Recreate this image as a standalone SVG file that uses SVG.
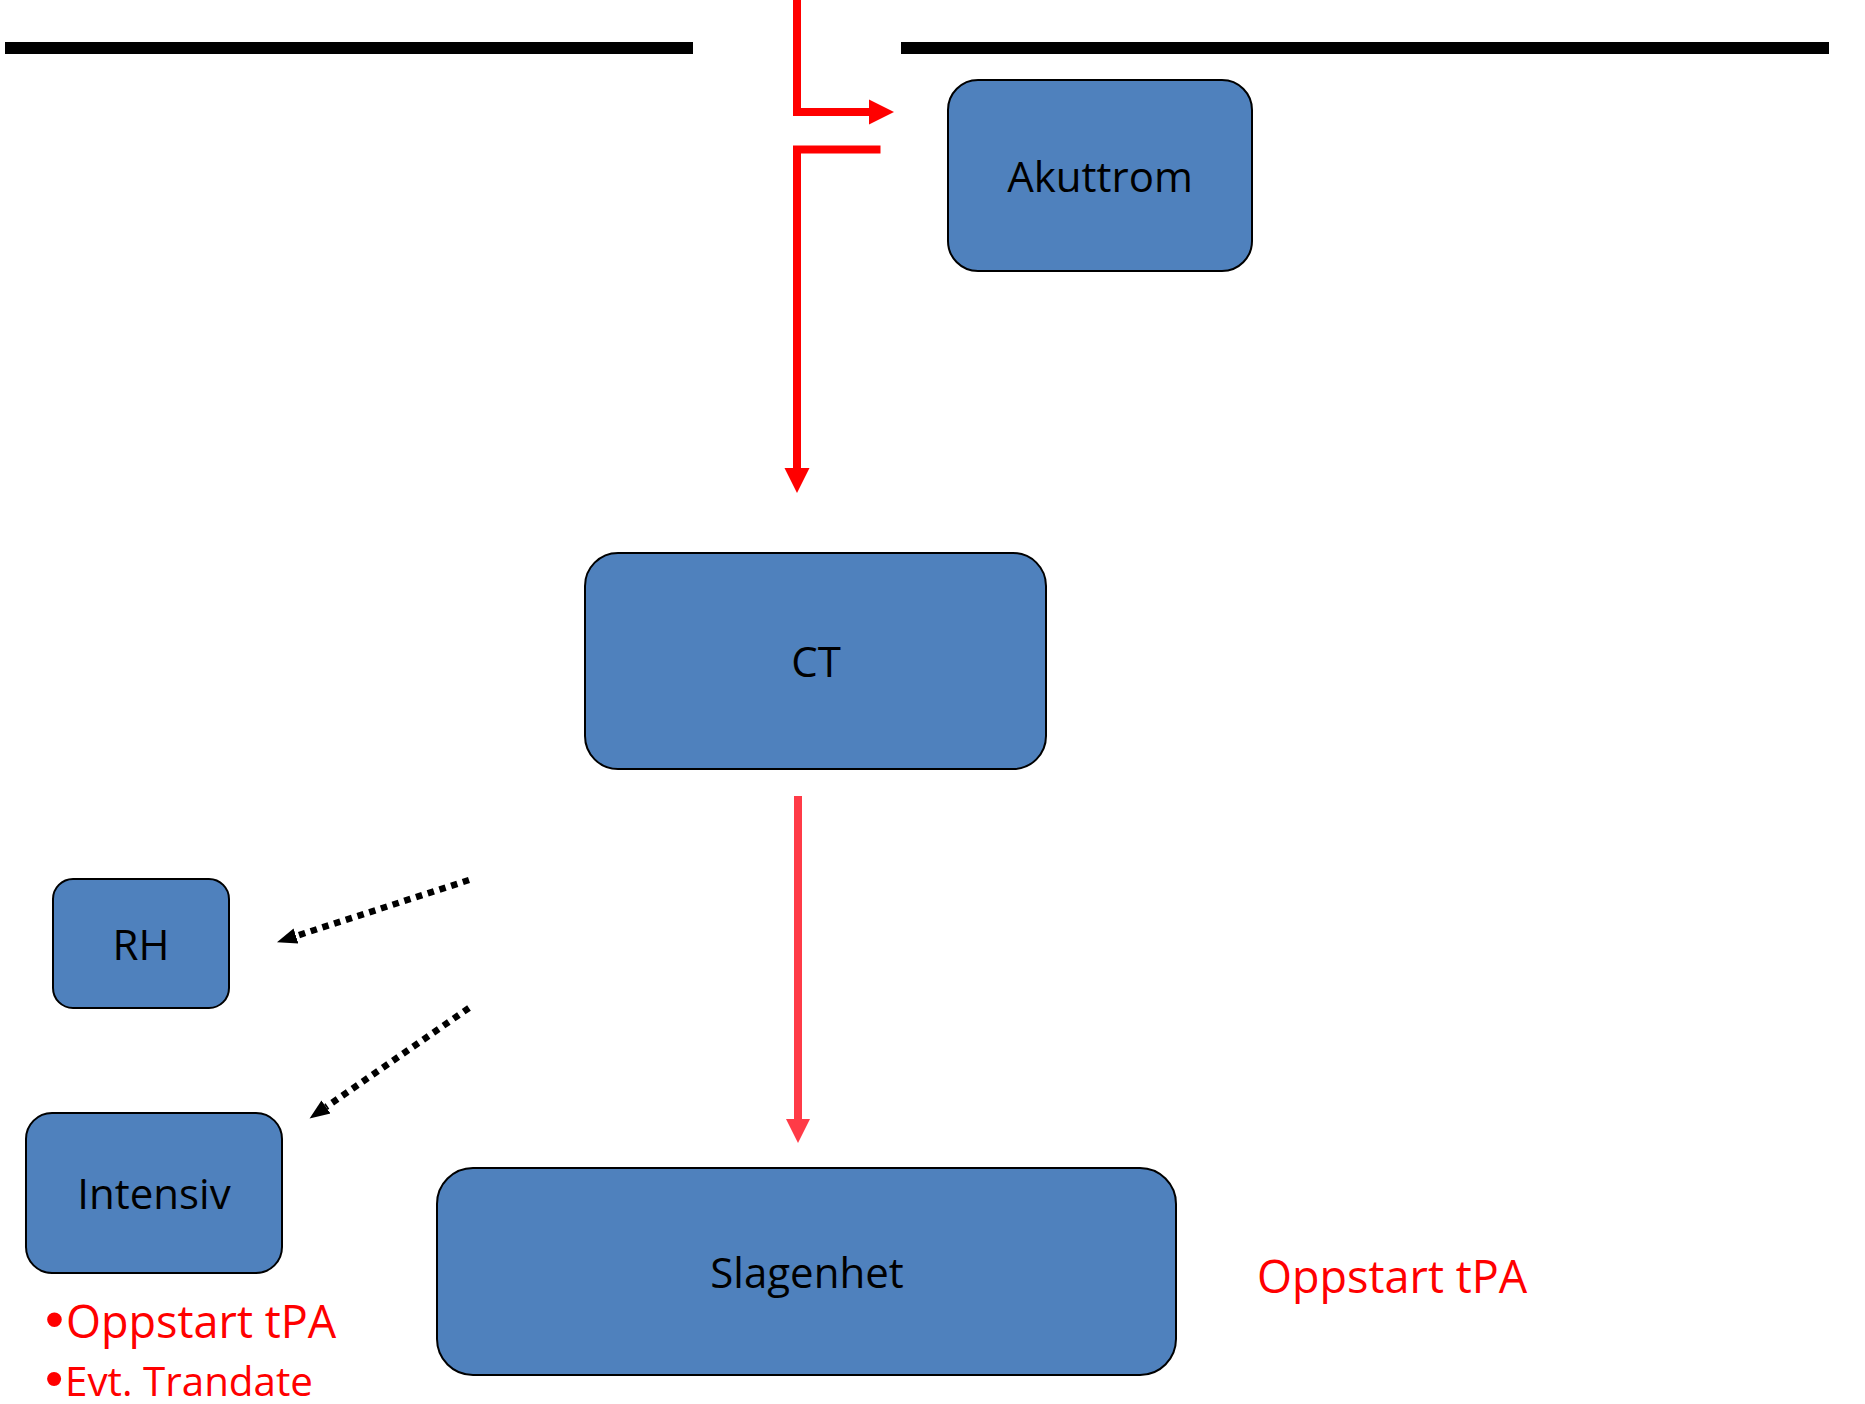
<svg xmlns="http://www.w3.org/2000/svg" width="1865" height="1404" viewBox="0 0 1865 1404">
  <style>
    .node rect { fill: #4F81BD; stroke: #000; stroke-width: 2; }
    .node text { font-family: "Open Sans", "Liberation Sans", sans-serif; font-size: 42px; fill: #000; text-anchor: middle; }
    .red { font-family: "Open Sans", "Liberation Sans", sans-serif; fill: #FF0000; }
    .bullet { font-family: "Liberation Sans", Arial, sans-serif; }
    .wall { stroke: #000; stroke-width: 12; fill: none; }
    .redline { stroke: #FF0000; stroke-width: 8; fill: none; stroke-linejoin: miter; stroke-linecap: butt; }
    .redline2 { stroke: #FF3B47; stroke-width: 8; fill: none; }
    .dotted { stroke: #000; stroke-width: 6.5; stroke-dasharray: 6.5 5.8; fill: none; }
  </style>
  <defs>
    <marker id="redHead" markerUnits="userSpaceOnUse" markerWidth="26" markerHeight="26" refX="0" refY="12.5" orient="auto" viewBox="0 0 26 25">
      <path d="M0,0 L25,12.5 L0,25 Z" fill="#FF0000"/>
    </marker>
    <marker id="redHead2" markerUnits="userSpaceOnUse" markerWidth="26" markerHeight="26" refX="0" refY="12" orient="auto" viewBox="0 0 26 24">
      <path d="M0,0 L24,12 L0,24 Z" fill="#FF3B47"/>
    </marker>
    <marker id="blackHead" markerUnits="userSpaceOnUse" markerWidth="22" markerHeight="18" refX="0" refY="8" orient="auto" viewBox="0 0 22 16">
      <path d="M0,0 L20,8 L0,16 Z" fill="#000"/>
    </marker>
  </defs>

  <g id="walls">
    <line class="wall" x1="5" y1="48" x2="693" y2="48"/>
    <line class="wall" x1="901" y1="48" x2="1829" y2="48"/>
  </g>

  <g id="connectors">
    <polyline class="redline" points="797,0 797,112 869,112" marker-end="url(#redHead)"/>
    <polyline class="redline" points="880.5,149.5 797,149.5 797,468" marker-end="url(#redHead)"/>
    <line class="redline2" x1="798" y1="796" x2="798" y2="1119" marker-end="url(#redHead2)"/>
    <line class="dotted" x1="469" y1="880" x2="296" y2="936" marker-end="url(#blackHead)"/>
    <line class="dotted" x1="469" y1="1008" x2="326" y2="1107" marker-end="url(#blackHead)"/>
  </g>

  <g id="akuttrom" class="node">
    <rect x="948" y="80" width="304" height="191" rx="30" ry="30"/>
    <text x="1100" y="192">Akuttrom</text>
  </g>
  <g id="ct" class="node">
    <rect x="585" y="553" width="461" height="216" rx="33" ry="33"/>
    <text x="816" y="677">CT</text>
  </g>
  <g id="rh" class="node">
    <rect x="53" y="879" width="176" height="129" rx="20" ry="20"/>
    <text x="141" y="960">RH</text>
  </g>
  <g id="intensiv" class="node">
    <rect x="26" y="1113" width="256" height="160" rx="26" ry="26"/>
    <text x="154" y="1209">Intensiv</text>
  </g>
  <g id="slagenhet" class="node">
    <rect x="437" y="1168" width="739" height="207" rx="36" ry="36"/>
    <text x="807" y="1288">Slagenhet</text>
  </g>

  <g id="notes">
    <text class="red" x="1257" y="1293" font-size="45">Oppstart tPA</text>
    <text class="red" y="1338" font-size="45"><tspan class="bullet" x="45" font-size="54">•</tspan><tspan x="66">Oppstart tPA</tspan></text>
    <text class="red" y="1396" font-size="41"><tspan class="bullet" x="45" font-size="52">•</tspan><tspan x="65" textLength="248" lengthAdjust="spacingAndGlyphs">Evt. Trandate</tspan></text>
  </g>
</svg>
